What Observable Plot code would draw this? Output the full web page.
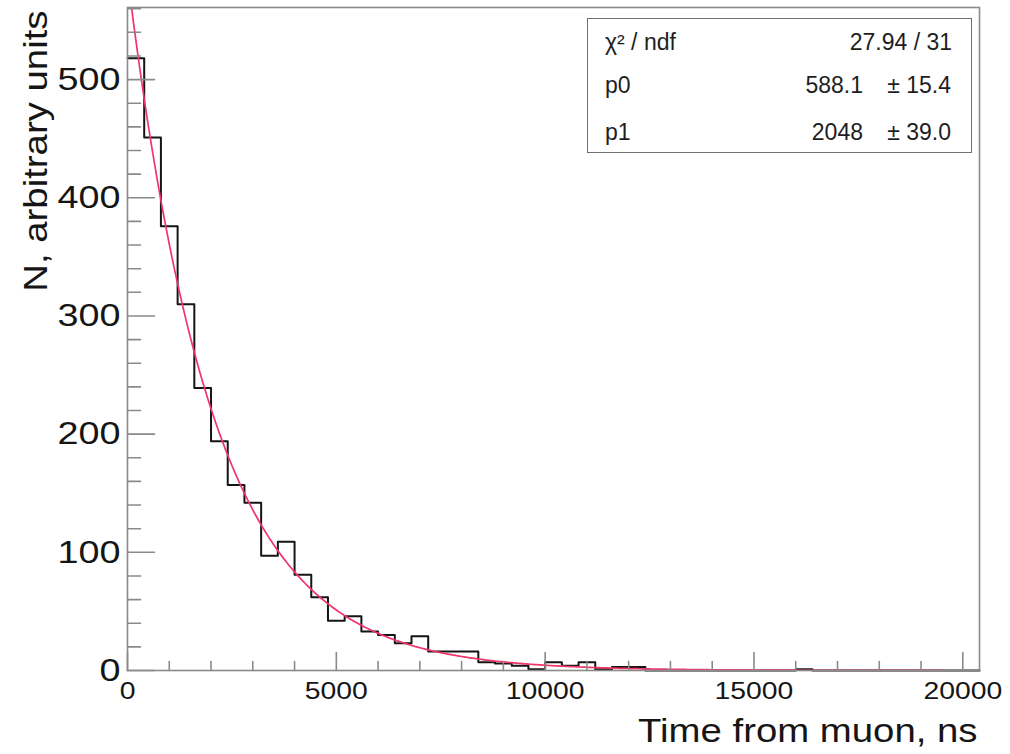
<!DOCTYPE html>
<html><head><meta charset="utf-8">
<script src="https://cdn.jsdelivr.net/npm/d3@7"></script>
<script src="https://cdn.jsdelivr.net/npm/@observablehq/plot@0.6"></script>
<style>
html,body{margin:0;padding:0;background:#fff;}
#wrap{position:relative;width:1010px;height:754px;font-family:"Liberation Sans",Arial,sans-serif;}
#stats{position:absolute;left:587px;top:18px;width:385px;height:135px;border:1.5px solid #707070;box-sizing:border-box;background:#fff;}
.st{position:absolute;font-size:23px;line-height:23px;color:#1e1e1e;white-space:nowrap;}
</style></head>
<body><div id="wrap"></div>
<script>
// ---- data ----
const binWidth = 400; // ns
const counts = [518, 451, 376, 310, 239, 194, 157, 142, 97, 109,
                81, 62, 42, 46, 33, 30, 23, 29, 16, 16,
                16, 7, 6, 4, 1, 7, 4, 7, 1, 3,
                3, 0, 0, 0, 0, 0, 0, 0, 0, 0,
                1, 0, 0, 0, 0, 0, 0, 0, 0, 0, 0];
const xDomain = [0, 20400];
const yDomain = [0, 561];
const xMajorTicks = [0, 5000, 10000, 15000, 20000];
const yMajorTicks = [0, 100, 200, 300, 400, 500];
const fitP0 = 588.1, fitP1 = 2048;   // fit: p0 * exp(-t / p1)
const fitRange = [0, 19500];
const xTitle = "Time from muon, ns";
const yTitle = "N, arbitrary units";
const statsRows = [
  {name: "χ² / ndf", value: "27.94 / 31", error: ""},
  {name: "p0", value: "588.1", error: "± 15.4"},
  {name: "p1", value: "2048", error: "± 39.0"}
];

// ---- derived tables ----
const histPoints = counts.map((n, i) => ({t: i * binWidth, n}));
histPoints.push({t: counts.length * binWidth, n: counts[counts.length - 1]});
const fitPoints = d3.range(fitRange[0], fitRange[1] + 1, 50).map(t => ({t, n: fitP0 * Math.exp(-t / fitP1)}));
const xMinorTicks = d3.range(0, 20001, 1000).filter(d => d % 5000 !== 0);
const yMinorTicks = d3.range(0, 561, 20).filter(d => d % 100 !== 0);

const tickShape = {draw(ctx, l) { ctx.moveTo(0, 0); ctx.lineTo(0, -l); }};
const axisGray = "#8a8a8a";
const fmt = d3.format("d");

const svg = Plot.plot({
  width: 1010, height: 754,
  marginLeft: 127, marginRight: 31, marginTop: 7, marginBottom: 84,
  x: {domain: xDomain},
  y: {domain: yDomain},
  style: {fontFamily: "'Liberation Sans', Arial, sans-serif", background: "white", color: "#151515", overflow: "visible"},
  marks: [
    Plot.line(histPoints, {x: "t", y: "n", curve: "step-after", stroke: "#151515", strokeWidth: 2}),
    Plot.line(fitPoints, {x: "t", y: "n", stroke: "#f0356b", strokeWidth: 1.7, clip: true}),
    Plot.vector(yMajorTicks, {x: () => 0, y: d => d, length: 27, rotate: 90, anchor: "start", shape: tickShape, stroke: axisGray, strokeWidth: 1.6}),
    Plot.vector(yMinorTicks, {x: () => 0, y: d => d, length: 13, rotate: 90, anchor: "start", shape: tickShape, stroke: axisGray, strokeWidth: 1.6}),
    Plot.vector(xMajorTicks, {x: d => d, y: () => 0, length: 18, rotate: 0, anchor: "start", shape: tickShape, stroke: axisGray, strokeWidth: 1.6}),
    Plot.vector(xMinorTicks, {x: d => d, y: () => 0, length: 9, rotate: 0, anchor: "start", shape: tickShape, stroke: axisGray, strokeWidth: 1.6}),
    Plot.frame({stroke: axisGray, strokeWidth: 1.6}),
    Plot.axisY(yMajorTicks, {tickSize: 0, tickPadding: 7, fontSize: 32, label: null, tickFormat: fmt}),
    Plot.axisX(xMajorTicks, {tickSize: 0, tickPadding: 11, fontSize: 24, label: null, tickFormat: fmt}),
    Plot.text([yTitle], {text: d => d, frameAnchor: "top-left", rotate: -90, textAnchor: "end", lineAnchor: "middle", dx: -91, dy: 3, fontSize: 32.5}),
    Plot.text([xTitle], {text: d => d, frameAnchor: "bottom-right", textAnchor: "end", lineAnchor: "middle", dx: -2, dy: 61, fontSize: 32.5})
  ]
});

// axis texts in the reference are horizontally wider: stretch along the baseline
svg.querySelectorAll("text").forEach(t => {
  const tr = t.getAttribute("transform");
  if (tr) t.setAttribute("transform", tr + " scale(1.18,1)");
});

const wrap = document.getElementById("wrap");
wrap.appendChild(svg);

// stats box (ROOT-style)
const box = document.createElement("div");
box.id = "stats";
wrap.appendChild(box);
const baselines = [50, 93, 140];
statsRows.forEach((r, i) => {
  const top = baselines[i] - 19.5;
  const a = document.createElement("div");
  a.className = "st"; a.style.left = "605px"; a.style.top = top + "px"; a.textContent = r.name;
  wrap.appendChild(a);
  if (r.error) {
    const b = document.createElement("div");
    b.className = "st"; b.style.right = (1010 - 863) + "px"; b.style.top = top + "px"; b.textContent = r.value;
    wrap.appendChild(b);
    const c = document.createElement("div");
    c.className = "st"; c.style.right = (1010 - 951) + "px"; c.style.top = top + "px"; c.textContent = r.error;
    wrap.appendChild(c);
  } else {
    const b = document.createElement("div");
    b.className = "st"; b.style.right = (1010 - 952) + "px"; b.style.top = top + "px"; b.textContent = r.value;
    wrap.appendChild(b);
  }
});
</script>
</body></html>
